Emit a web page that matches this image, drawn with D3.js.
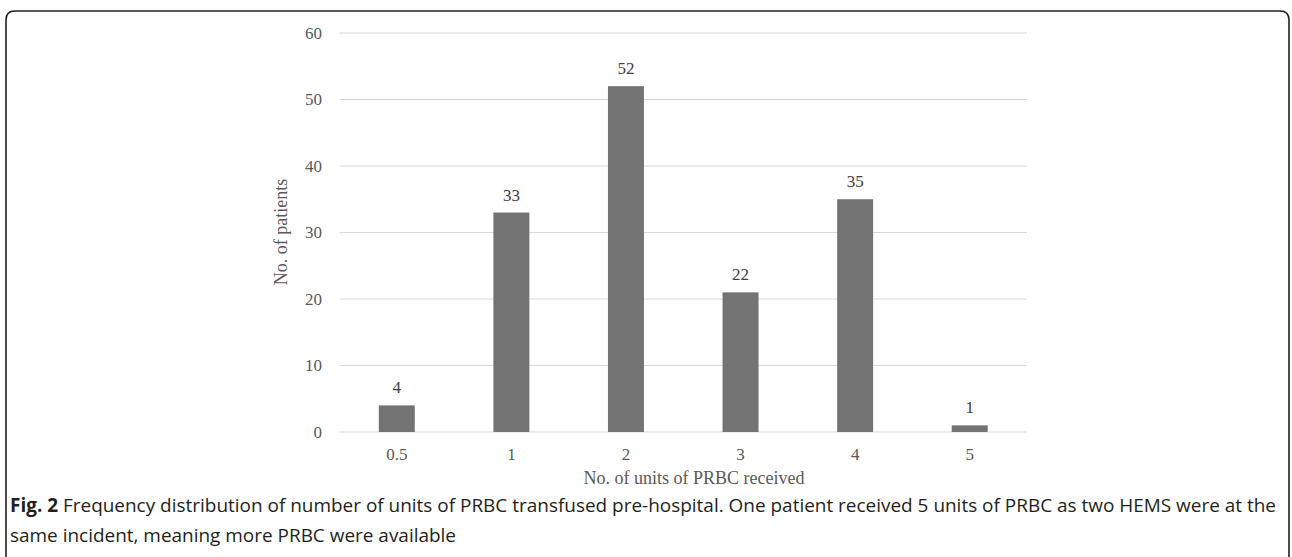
<!DOCTYPE html>
<html>
<head>
<meta charset="utf-8">
<script src="https://cdn.jsdelivr.net/npm/d3@7"></script>
<style>
  html, body { margin: 0; padding: 0; background: #fff; }
  svg { display: block; }
</style>
</head>
<body>
<svg id="chart" width="1292" height="557"></svg>
<script>
const categories = ["0.5", "1", "2", "3", "4", "5"];
const values = [4, 33, 52, 21, 35, 1];
const dataLabels = ["4", "33", "52", "22", "35", "1"];
const yTicks = [0, 10, 20, 30, 40, 50, 60];
const xTitle = "No. of units of PRBC received";
const yTitle = "No. of patients";
const captionBold = "Fig. 2";
const captionLine1 = " Frequency distribution of number of units of PRBC transfused pre-hospital. One patient received 5 units of PRBC as two HEMS were at the";
const captionLine2 = "same incident, meaning more PRBC were available";

const svg = d3.select("#chart");
const serif = "'Liberation Serif', 'DejaVu Serif', serif";
const grey = "#595959";

// Border frame
const bx = 6, by = 11, bw = 1283, bh = 560, r = 9;
svg.append("path")
  .attr("d", `M${bx},${by + bh} L${bx},${by + r} Q${bx},${by} ${bx + r},${by} L${bx + bw - r},${by} Q${bx + bw},${by} ${bx + bw},${by + r} L${bx + bw},${by + bh}`)
  .attr("fill", "none").attr("stroke", "#231f20").attr("stroke-width", 1.6);

const x = d3.scaleBand().domain(categories).range([339.5, 1027]).paddingInner(0.686).paddingOuter(0.343);
const y = d3.scaleLinear().domain([0, 60]).range([432, 33]);

// gridlines
svg.append("g").selectAll("line").data(yTicks).join("line")
  .attr("x1", 339.5).attr("x2", 1027)
  .attr("y1", d => y(d)).attr("y2", d => y(d))
  .attr("stroke", "#d9d9d9").attr("stroke-width", 1);

// y axis labels
const yAxis = d3.axisLeft(y).tickValues(yTicks).tickSize(0).tickPadding(0);
const gy = svg.append("g").attr("transform", "translate(322,0)").call(yAxis);
gy.select(".domain").remove();
gy.selectAll("text").attr("font-family", serif).attr("font-size", 17).attr("fill", grey).attr("dy", "0.32em");

// bars
svg.append("g").selectAll("rect").data(values).join("rect")
  .attr("x", (d, i) => x(categories[i]))
  .attr("width", x.bandwidth())
  .attr("y", d => y(d))
  .attr("height", d => y(0) - y(d))
  .attr("fill", "#737373");

// data labels
svg.append("g").selectAll("text").data(values).join("text")
  .attr("x", (d, i) => x(categories[i]) + x.bandwidth() / 2)
  .attr("y", d => y(d) - 12)
  .attr("text-anchor", "middle")
  .attr("font-family", serif).attr("font-size", 17).attr("fill", "#404040")
  .text((d, i) => dataLabels[i]);

// x axis labels
const xAxis = d3.axisBottom(x).tickSize(0).tickPadding(0);
const gx = svg.append("g").attr("transform", "translate(0,448)").call(xAxis);
gx.select(".domain").remove();
gx.selectAll("text").attr("font-family", serif).attr("font-size", 17).attr("fill", grey).attr("dy", "0.71em");

// axis titles
svg.append("text").attr("x", 694).attr("y", 484).attr("text-anchor", "middle")
  .attr("font-family", serif).attr("font-size", 18).attr("fill", grey).text(xTitle);
svg.append("text").attr("transform", "translate(287,232) rotate(-90)").attr("text-anchor", "middle")
  .attr("font-family", serif).attr("font-size", 18).attr("fill", grey).text(yTitle);

// caption
const capFont = "'Liberation Sans Narrow', 'Open Sans', 'DejaVu Sans', sans-serif";
const t1 = svg.append("text").attr("x", 10).attr("y", 512)
  .attr("font-family", capFont).attr("font-size", 19).attr("fill", "#231f20")
  .attr("textLength", 1266).attr("lengthAdjust", "spacingAndGlyphs");
t1.append("tspan").attr("font-weight", "bold").text(captionBold);
t1.append("tspan").text(captionLine1);
svg.append("text").attr("x", 10).attr("y", 542)
  .attr("font-family", capFont).attr("font-size", 19).attr("fill", "#231f20")
  .attr("textLength", 446).attr("lengthAdjust", "spacingAndGlyphs")
  .text(captionLine2);
</script>
</body>
</html>
